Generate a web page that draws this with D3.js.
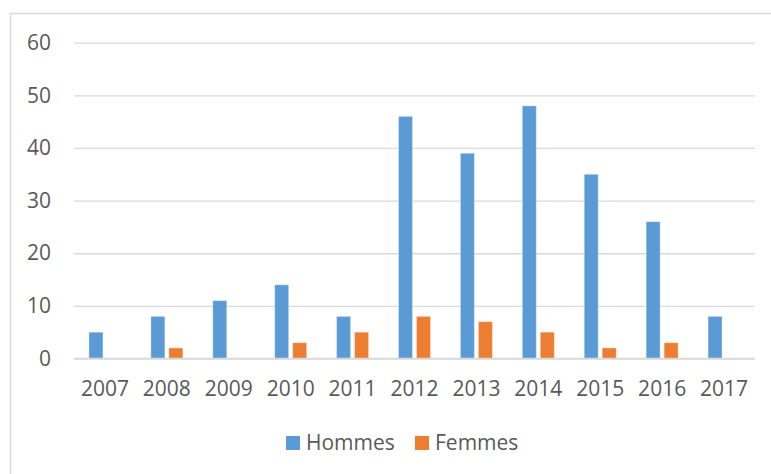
<!DOCTYPE html>
<html>
<head>
<meta charset="utf-8">
<script src="https://cdn.jsdelivr.net/npm/d3@7"></script>
<style>
  body { margin: 0; background: #fff; }
  svg { display: block; font-family: "Open Sans", "DejaVu Sans", sans-serif; }
</style>
</head>
<body>
<svg></svg>
<script>
const years = ['2007', '2008', '2009', '2010', '2011', '2012', '2013', '2014', '2015', '2016', '2017'];
const hommes = [5, 8, 11, 14, 8, 46, 39, 48, 35, 26, 8];
const femmes = [0, 2, 0, 3, 5, 8, 7, 5, 2, 3, 0];
const seriesNames = ['Hommes', 'Femmes'];
const yTicks = [0, 10, 20, 30, 40, 50, 60];

const width = 771;
const height = 474;
const colors = ['#5B9BD5', '#ED7D31'];
const textColor = '#595959';
const gridColor = '#D9D9D9';
const fontSize = 21;

const plot = { left: 74, right: 755, top: 42.7, bottom: 358.5 };

const svg = d3.select('svg')
  .attr('width', width)
  .attr('height', height);

// frame (left + top edges visible)
svg.append('path')
   .attr('d', `M10.5,${height} L10.5,13.5 L${width},13.5`)
   .attr('fill', 'none')
   .attr('stroke', gridColor)
   .attr('stroke-width', 1.5);

const xScale = d3.scaleBand()
  .domain(years)
  .range([plot.left, plot.right]);

const yScale = d3.scaleLinear()
  .domain([0, 60])
  .range([plot.bottom, plot.top]);

// gridlines
const yAxis = d3.axisLeft(yScale)
  .tickValues(yTicks)
  .tickSize(-(plot.right - plot.left))
  .tickPadding(23);

svg.append('g')
   .attr('transform', `translate(${plot.left},0)`)
   .call(yAxis)
   .call(g => g.select('.domain').remove())
   .call(g => g.selectAll('line').attr('stroke', gridColor).attr('stroke-width', 1.3))
   .call(g => g.selectAll('text')
      .attr('fill', textColor)
      .attr('font-size', fontSize)
      .attr('font-family', '"Open Sans", sans-serif'));

const barWidth = 14;
const gap = 4;

const groups = [hommes, femmes];
groups.forEach((vals, si) => {
  svg.append('g')
     .selectAll('rect')
     .data(vals)
     .enter()
     .append('rect')
     .attr('x', (v, i) => xScale(years[i]) + xScale.bandwidth() / 2 + (si === 0 ? -gap / 2 - barWidth : gap / 2))
     .attr('y', v => yScale(v))
     .attr('width', barWidth)
     .attr('height', v => yScale(0) - yScale(v))
     .attr('fill', colors[si])
     .attr('stroke', 'rgba(255,255,255,0.35)')
     .attr('stroke-width', 1);
});

// x axis labels
const xAxis = d3.axisBottom(xScale)
  .tickSize(0)
  .tickPadding(23);

svg.append('g')
   .attr('transform', `translate(0,${plot.bottom})`)
   .call(xAxis)
   .call(g => g.select('.domain').remove())
   .call(g => g.selectAll('text')
      .attr('fill', textColor)
      .attr('font-size', fontSize)
      .attr('font-family', '"Open Sans", sans-serif'));

// redraw zero line over bars bottom
svg.append('line')
   .attr('x1', plot.left).attr('x2', plot.right)
   .attr('y1', yScale(0)).attr('y2', yScale(0))
   .attr('stroke', gridColor)
   .attr('stroke-width', 1.5);

// legend
const legendX = [286, 415];
const legend = svg.append('g');
seriesNames.forEach((name, i) => {
  legend.append('rect')
        .attr('x', legendX[i])
        .attr('y', 436)
        .attr('width', 14)
        .attr('height', 14)
        .attr('fill', colors[i]);
  legend.append('text')
        .attr('x', legendX[i] + 20)
        .attr('y', 443)
        .attr('dy', '0.35em')
        .attr('fill', textColor)
        .attr('font-size', fontSize)
        .text(name);
});
</script>
</body>
</html>
